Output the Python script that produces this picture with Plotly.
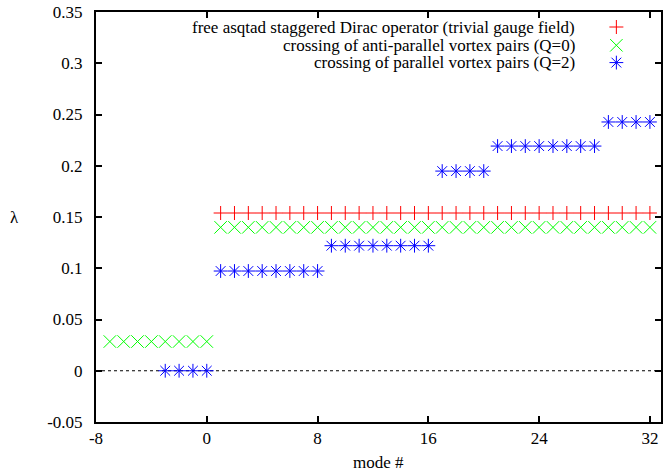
import plotly.graph_objects as go

# ---- data ----
free_modes = [1, 2, 3, 4, 5, 6, 7, 8, 9, 10, 11, 12, 13, 14, 15, 16,
              17, 18, 19, 20, 21, 22, 23, 24, 25, 26, 27, 28, 29, 30, 31, 32]
free_lambda = [0.1539, 0.1539, 0.1539, 0.1539, 0.1539, 0.1539, 0.1539, 0.1539,
               0.1539, 0.1539, 0.1539, 0.1539, 0.1539, 0.1539, 0.1539, 0.1539,
               0.1539, 0.1539, 0.1539, 0.1539, 0.1539, 0.1539, 0.1539, 0.1539,
               0.1539, 0.1539, 0.1539, 0.1539, 0.1539, 0.1539, 0.1539, 0.1539]

anti_modes = [-7, -6, -5, -4, -3, -2, -1, 0,
              1, 2, 3, 4, 5, 6, 7, 8, 9, 10, 11, 12, 13, 14, 15, 16,
              17, 18, 19, 20, 21, 22, 23, 24, 25, 26, 27, 28, 29, 30, 31, 32]
anti_lambda = [0.0285, 0.0285, 0.0285, 0.0285, 0.0285, 0.0285, 0.0285, 0.0285,
               0.1399, 0.1399, 0.1399, 0.1399, 0.1399, 0.1399, 0.1399, 0.1399,
               0.1399, 0.1399, 0.1399, 0.1399, 0.1399, 0.1399, 0.1399, 0.1399,
               0.1399, 0.1399, 0.1399, 0.1399, 0.1399, 0.1399, 0.1399, 0.1399,
               0.1399, 0.1399, 0.1399, 0.1399, 0.1399, 0.1399, 0.1399, 0.1399]

par_modes = [-3, -2, -1, 0,
             1, 2, 3, 4, 5, 6, 7, 8, 9, 10, 11, 12, 13, 14, 15, 16,
             17, 18, 19, 20, 21, 22, 23, 24, 25, 26, 27, 28, 29, 30, 31, 32]
par_lambda = [0.0, 0.0, 0.0, 0.0,
              0.0973, 0.0973, 0.0973, 0.0973, 0.0973, 0.0973, 0.0973, 0.0973,
              0.1220, 0.1220, 0.1220, 0.1220, 0.1220, 0.1220, 0.1220, 0.1220,
              0.1948, 0.1948, 0.1948, 0.1948,
              0.2192, 0.2192, 0.2192, 0.2192, 0.2192, 0.2192, 0.2192, 0.2192,
              0.2427, 0.2427, 0.2427, 0.2427]

series_names = ["free asqtad staggered Dirac operator (trivial gauge field)",
                "crossing of anti-parallel vortex pairs (Q=0)",
                "crossing of parallel vortex pairs (Q=2)"]

x_tick_vals = [-8, 0, 8, 16, 24, 32]
x_tick_text = ["-8", "0", "8", "16", "24", "32"]
y_tick_vals = [-0.05, 0, 0.05, 0.1, 0.15, 0.2, 0.25, 0.3, 0.35]
y_tick_text = ["-0.05", "0", "0.05", "0.1", "0.15", "0.2", "0.25", "0.3", "0.35"]

FONT = "Liberation Serif"
RED, GREEN, BLUE = "#ff0000", "#00ff00", "#0000ff"

fig = go.Figure()

styles = [("cross-thin", RED, 10), ("x-thin", GREEN, 12.5), ("asterisk", BLUE, 11.5)]
datasets = [(free_modes, free_lambda), (anti_modes, anti_lambda), (par_modes, par_lambda)]

for (sym, col, sz), (xs, ys), name in zip(styles, datasets, series_names):
    fig.add_trace(go.Scatter(
        x=xs, y=ys, mode="markers", name=name, showlegend=False,
        marker=dict(symbol=sym, size=sz, color=col,
                    line=dict(color=col, width=1)),
    ))

# gnuplot-style key: right-aligned text with sample marker to its right
key_rows = [0.9634, 0.9188, 0.8766]
for (sym, col, sz), name, ky in zip(styles, series_names, key_rows):
    fig.add_trace(go.Scatter(
        x=[0.921], y=[ky], xaxis="x2", yaxis="y2", mode="markers",
        showlegend=False, hoverinfo="skip",
        marker=dict(symbol=sym, size=sz, color=col,
                    line=dict(color=col, width=1)),
    ))
    fig.add_annotation(x=0.851, y=ky, xref="paper", yref="paper",
                       text=name, showarrow=False, xanchor="right",
                       yanchor="middle",
                       font=dict(family=FONT, size=17, color="black"))

# dotted zero axis
fig.add_shape(type="line", xref="paper", yref="y", x0=0, x1=1, y0=0, y1=0,
              line=dict(color="black", width=1, dash="dot"), layer="below")

axis_common = dict(
    showgrid=False, zeroline=False, showline=True, linecolor="black",
    linewidth=2, mirror="ticks", ticks="inside", ticklen=6, tickwidth=1.5,
    tickcolor="black", tickfont=dict(family=FONT, size=17, color="black"),
)

fig.update_layout(
    width=665, height=471,
    margin=dict(l=96, r=2, t=12, b=49),
    plot_bgcolor="white", paper_bgcolor="white",
    font=dict(family=FONT, size=17, color="black"),
    showlegend=False,
    xaxis=dict(range=[-8, 32.8], tickmode="array", tickvals=x_tick_vals,
               ticktext=x_tick_text, ticklabelstandoff=0, **axis_common),
    yaxis=dict(range=[-0.05, 0.35], tickmode="array", tickvals=y_tick_vals,
               ticktext=y_tick_text, ticklabelstandoff=8, **axis_common),
    xaxis2=dict(range=[0, 1], overlaying="x", visible=False, fixedrange=True),
    yaxis2=dict(range=[0, 1], overlaying="y", visible=False, fixedrange=True),
)

fig.add_annotation(x=0.5, y=-0.098, xref="paper", yref="paper", text="mode #",
                   showarrow=False, xanchor="center", yanchor="middle",
                   font=dict(family=FONT, size=17, color="black"))
fig.add_annotation(x=-0.1446, y=0.5, xref="paper", yref="paper",
                   text="λ", showarrow=False, xanchor="center", yanchor="middle",
                   font=dict(family=FONT, size=17, color="black"))

fig.write_html("out.html")
